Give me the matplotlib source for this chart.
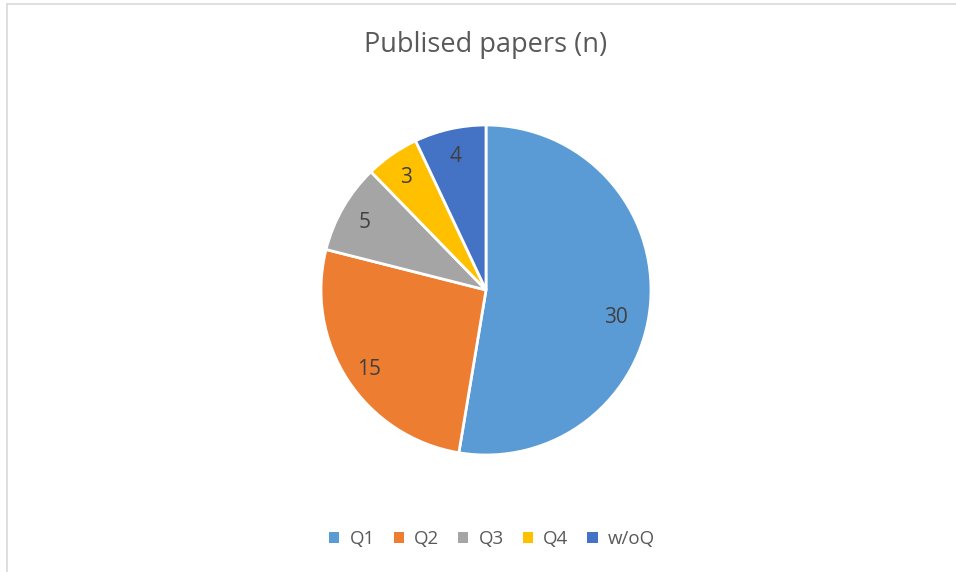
import matplotlib
matplotlib.use("Agg")
import numpy as np
import matplotlib.pyplot as plt
from matplotlib.lines import Line2D
from matplotlib.patches import Patch

plt.rcParams["font.family"] = ["Open Sans", "DejaVu Sans"]

categories = ["Q1", "Q2", "Q3", "Q4", "w/oQ"]
counts = [30, 15, 5, 3, 4]
colors = ["#5B9BD5", "#ED7D31", "#A5A5A5", "#FFC000", "#4472C4"]
title = "Publised papers (n)"

W, H = 956, 572
fig = plt.figure(figsize=(W / 100, H / 100), dpi=100)

# pie axes: centre ~(486, 290) px, radius ~165 px
cx, cy, r = 486, 290, 165
ax = fig.add_axes([(cx - r) / W, (H - cy - r) / H, 2 * r / W, 2 * r / H])
total = sum(counts)
wedges, _, autotexts = ax.pie(
    counts, colors=colors, startangle=90, counterclock=False,
    autopct=lambda p: f"{round(p * total / 100)}", pctdistance=0.85,
    wedgeprops=dict(edgecolor="white", linewidth=2),
    textprops=dict(color="#404040", fontsize=15))
ax.set_xlim(-1, 1)
ax.set_ylim(-1, 1)
ax.set_aspect("equal")

# Excel's best-fit nudges the big slice's label a little further round
w0 = wedges[0]
ang = np.deg2rad((w0.theta1 + w0.theta2) / 2 - 6)
autotexts[0].set_position((0.8 * np.cos(ang), 0.8 * np.sin(ang)))
# digits sit a touch lower than matplotlib's centred text
for t in autotexts:
    x, y = t.get_position()
    t.set_position((x, y - 0.018))

fig.text(cx / W, 1 - 45 / H, title, ha="center", va="center",
         fontsize=19.5, color="#595959")

handles = [Patch(facecolor=c, edgecolor="none") for c in colors]
fig.legend(handles, categories, loc="center", bbox_to_anchor=(492 / W, 1 - 539 / H),
           ncol=5, frameon=False, fontsize=13.5, labelcolor="#595959",
           handlelength=0.55, handleheight=0.55, handletextpad=0.55, columnspacing=1.0)

# chart-area border (only top and left edges visible in the crop)
fig.add_artist(Line2D([7 / W, 1], [1 - 4 / H] * 2, transform=fig.transFigure,
                      color="#D9D9D9", lw=1.2))
fig.add_artist(Line2D([7 / W] * 2, [0, 1 - 4 / H], transform=fig.transFigure,
                      color="#D9D9D9", lw=1.2))

fig.savefig("out.png", dpi=100, facecolor="white")
